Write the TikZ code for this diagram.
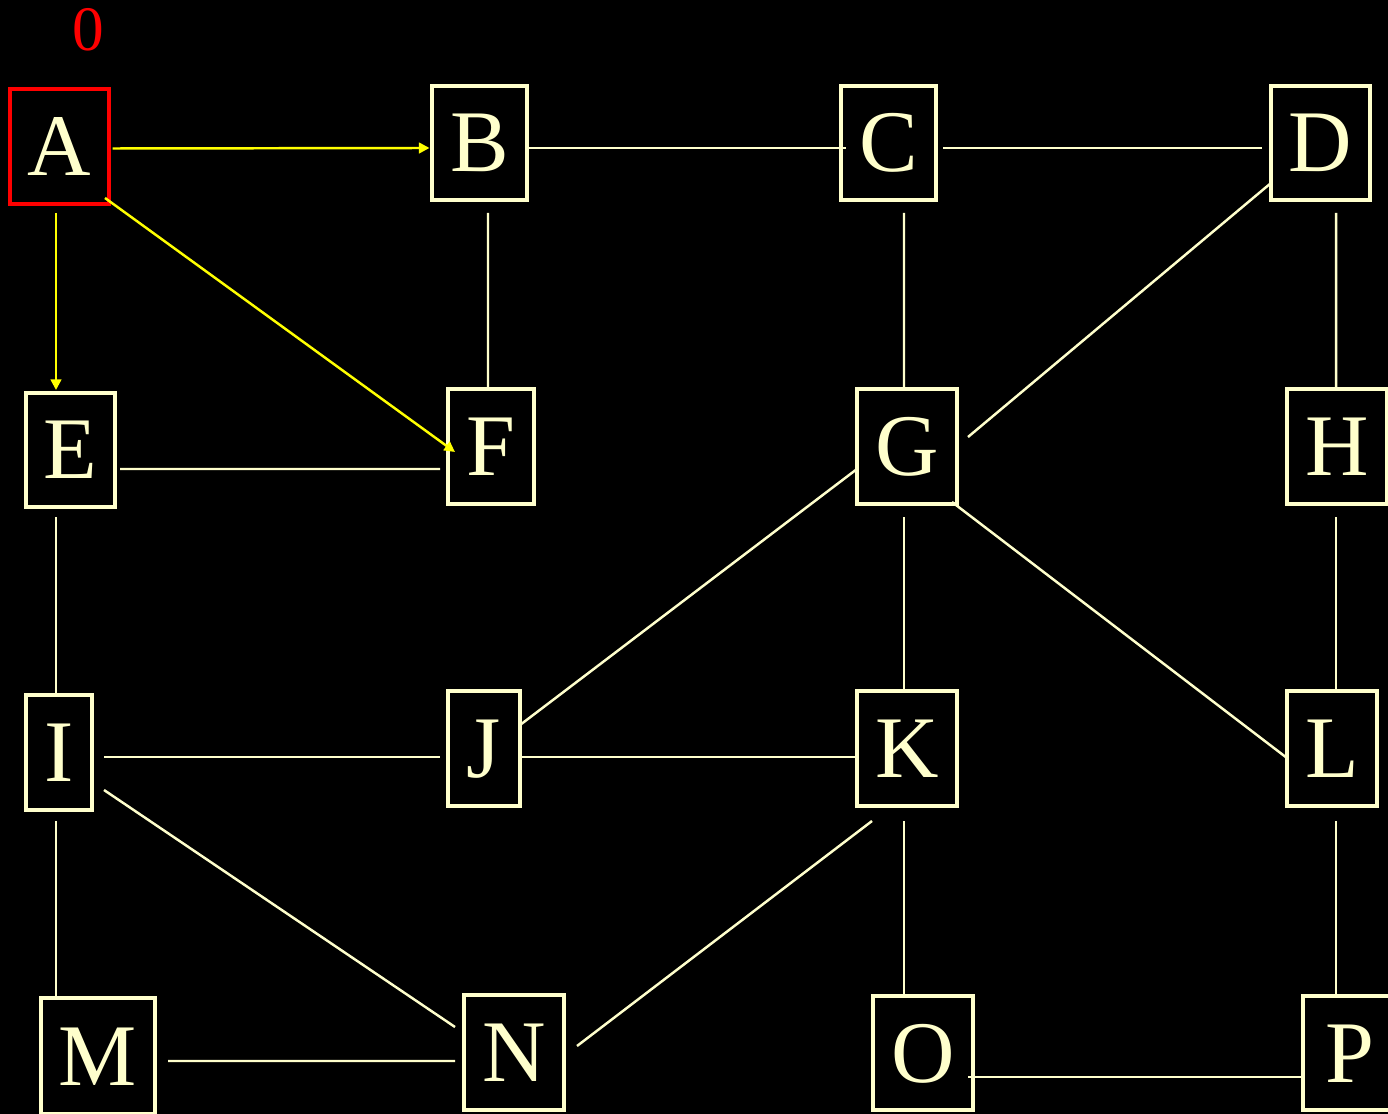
\documentclass[tikz,border=0pt]{standalone}
\usepackage{fontspec}
\setmainfont{Liberation Serif}
\usetikzlibrary{arrows.meta}
\definecolor{cream}{HTML}{FFFFCC}
\definecolor{yel}{HTML}{FFFF00}
\definecolor{redc}{HTML}{FF0000}
\begin{document}
\begin{tikzpicture}[x=0.1mm,y=-0.1mm,
  box/.style={draw=cream,line width=0.9pt,text=cream,inner sep=0pt,
    font=\fontsize{25}{30}\selectfont,text height=16.5pt,text depth=0pt,
    minimum height=11.5mm},
  edge/.style={draw=cream,line width=0.7pt},
  arr/.style={draw=yel,line width=0.7pt,-{Triangle[length=3pt,width=3pt]}}]
\fill[black] (0,0) rectangle (1388,1114);
\useasboundingbox (0,0) rectangle (1388,1114);
\node[text=redc,font=\fontsize{18}{20}\selectfont] (zero) at (88,30) {0};
\node[box,draw=redc,minimum width=9.9mm] (A) at (59.5,146.5) {A};
\node[box,minimum width=9.5mm,minimum height=11.4mm] (B) at (479.5,143) {B};
\node[box,minimum width=9.5mm,minimum height=11.4mm] (C) at (888.5,143) {C};
\node[box,minimum width=9.9mm,minimum height=11.4mm] (D) at (1320.5,143) {D};
\node[box,minimum width=8.9mm,minimum height=11.4mm] (E) at (70.5,450) {E};
\node[box,minimum width=8.6mm] (F) at (491,446.5) {F};
\node[box,minimum width=10mm] (G) at (907,446.5) {G};
\node[box,minimum width=10mm] (H) at (1337,446.5) {H};
\node[box,minimum width=6.6mm] (I) at (59,752.5) {I};
\node[box,minimum width=7.2mm] (J) at (484,748.5) {J};
\node[box,minimum width=10mm] (K) at (907,748.5) {K};
\node[box,minimum width=9mm] (L) at (1332,748.5) {L};
\node[box,minimum width=11.4mm,minimum height=11.6mm] (M) at (98,1056) {M};
\node[box,minimum width=10mm] (N) at (514,1052.5) {N};
\node[box,minimum width=10mm,minimum height=11.4mm] (O) at (923,1053) {O};
\node[box,minimum width=9.4mm,minimum height=11.4mm] (P) at (1350,1053) {P};
% yellow arrows
\draw[arr] ([shift={(53,2)}]A.center) -- ([shift={(-50,5)}]B.center);
\draw[arr] ([shift={(-3.5,66.5)}]A.center) -- ([shift={(-14.5,-60)}]E.center);
\draw[arr] ([shift={(45.5,51.5)}]A.center) -- ([shift={(-36,5.5)}]F.center);
% cream edges
\draw[edge] ([shift={(48.5,5)}]B.center) -- ([shift={(-42.5,5)}]C.center);
\draw[edge] ([shift={(54.5,5)}]C.center) -- ([shift={(-58.5,5)}]D.center);
\draw[edge] ([shift={(8.5,70)}]B.center) -- ([shift={(-3,-57.5)}]F.center);
\draw[edge] ([shift={(15.5,70)}]C.center) -- ([shift={(-3,-57.5)}]G.center);
\draw[edge] ([shift={(-49.5,40)}]D.center) -- ([shift={(61,-9.5)}]G.center);
\draw[edge] ([shift={(15.5,70)}]D.center) -- ([shift={(-1,-57.5)}]H.center);
\draw[edge] ([shift={(49.5,19)}]E.center) -- ([shift={(-51,22.5)}]F.center);
\draw[edge] ([shift={(-14.5,67)}]E.center) -- ([shift={(-3,-59.5)}]I.center);
\draw[edge] ([shift={(-50,22.5)}]G.center) -- ([shift={(36,-23.5)}]J.center);
\draw[edge] ([shift={(-3,70.5)}]G.center) -- ([shift={(-3,-55.5)}]K.center);
\draw[edge] ([shift={(45,55.5)}]G.center) -- ([shift={(-45,9.5)}]L.center);
\draw[edge] ([shift={(-1,70.5)}]H.center) -- ([shift={(4,-55.5)}]L.center);
\draw[edge] ([shift={(45,4.5)}]I.center) -- ([shift={(-44,8.5)}]J.center);
\draw[edge] ([shift={(36,8.5)}]J.center) -- ([shift={(-50,8.5)}]K.center);
\draw[edge] ([shift={(45,37.5)}]I.center) -- ([shift={(-59,-25.5)}]N.center);
\draw[edge] ([shift={(-3,68.5)}]I.center) -- ([shift={(-42,-58)}]M.center);
\draw[edge] ([shift={(-35,72.5)}]K.center) -- ([shift={(63,-6.5)}]N.center);
\draw[edge] ([shift={(-3,72.5)}]K.center) -- ([shift={(-19,-58)}]O.center);
\draw[edge] ([shift={(4,72.5)}]L.center) -- ([shift={(-14,-58)}]P.center);
\draw[edge] ([shift={(70,5)}]M.center) -- ([shift={(-59,8.5)}]N.center);
\draw[edge] ([shift={(45,24)}]O.center) -- ([shift={(-47,24)}]P.center);
\end{tikzpicture}
\end{document}
